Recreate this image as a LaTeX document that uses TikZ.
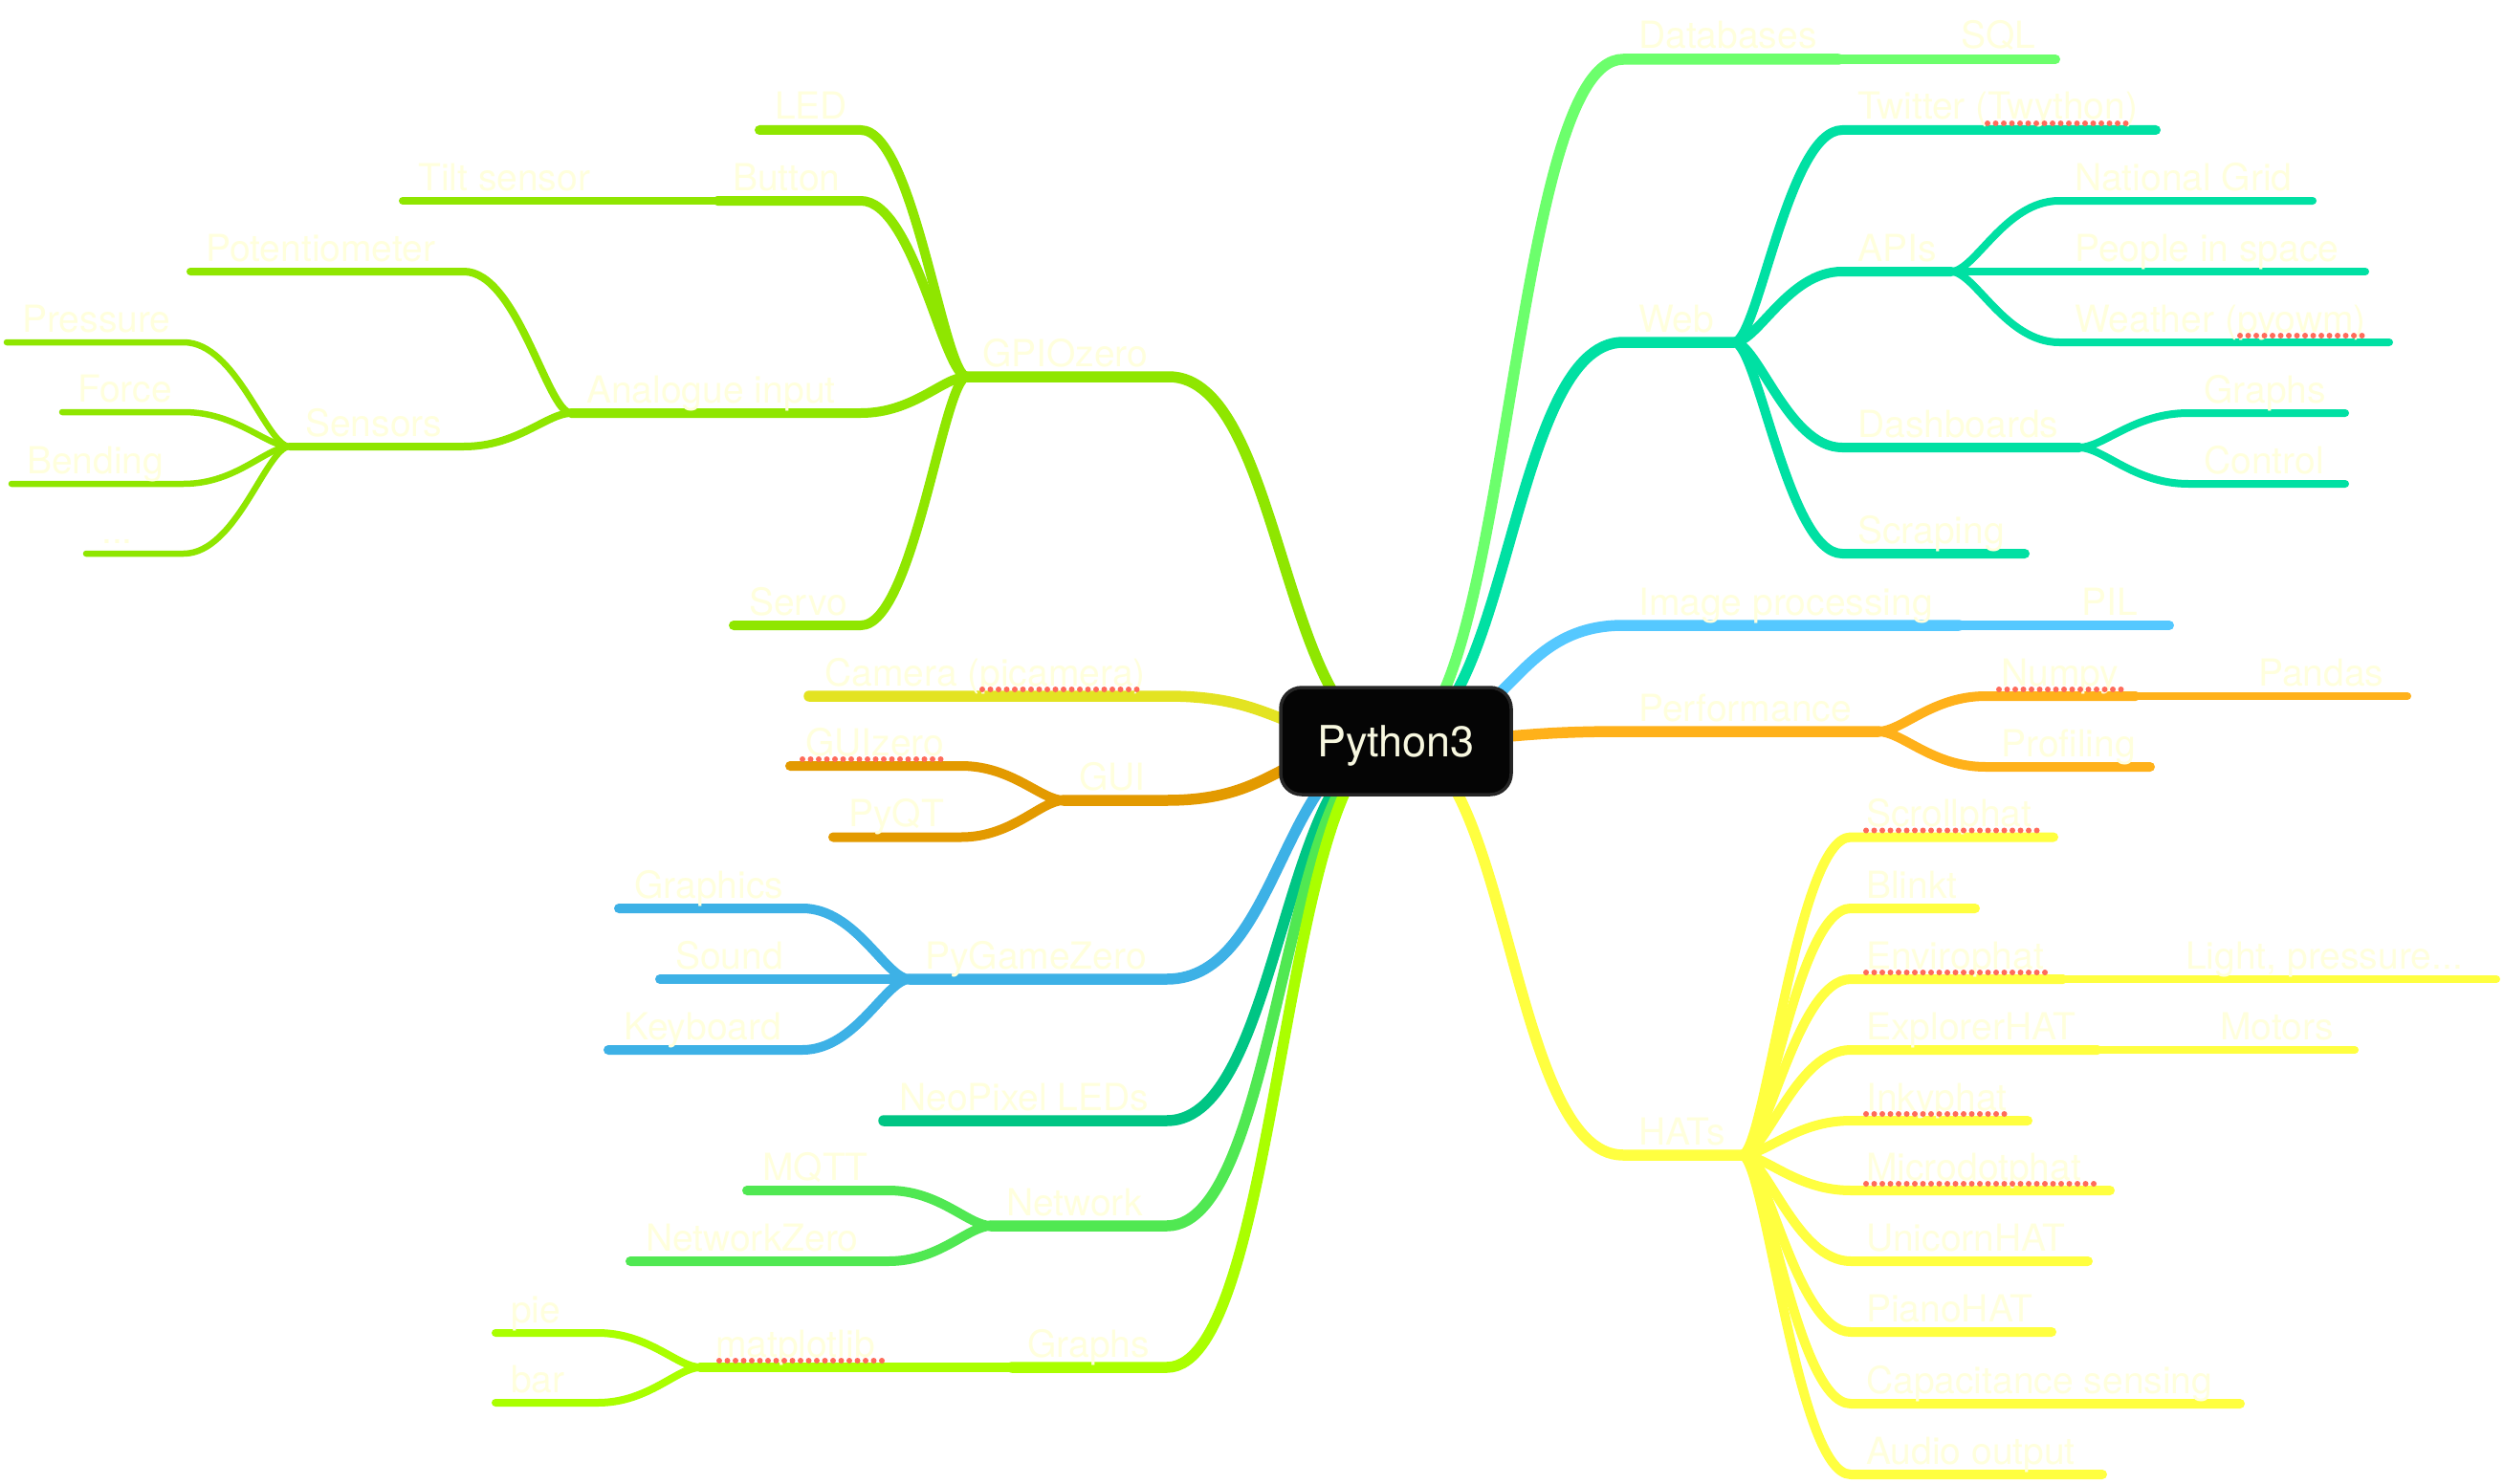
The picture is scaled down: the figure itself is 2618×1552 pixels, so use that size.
\documentclass[tikz,border=0pt]{standalone}
\usepackage{fontspec}
\setmainfont{TeX Gyre Heros}
\usetikzlibrary{calc}

% branch colours
\definecolor{cGpio}{HTML}{8FE600}
\definecolor{cCamera}{HTML}{E3E322}
\definecolor{cGui}{HTML}{E39A00}
\definecolor{cPygame}{HTML}{3DB1E6}
\definecolor{cNeo}{HTML}{00C584}
\definecolor{cNet}{HTML}{50E852}
\definecolor{cGraphs}{HTML}{AAFF00}
\definecolor{cDb}{HTML}{6CFF6C}
\definecolor{cWeb}{HTML}{00E0A3}
\definecolor{cImg}{HTML}{55C8FF}
\definecolor{cPerf}{HTML}{FFB11A}
\definecolor{cHats}{HTML}{FFFF40}
\definecolor{labeltext}{HTML}{FFFFDD}
\definecolor{roottext}{HTML}{F8F8E0}
\definecolor{rootfill}{HTML}{050505}
\definecolor{rootedge}{HTML}{262626}
\definecolor{spellred}{HTML}{FF6B5B}

\pgfdeclarelayer{bg}
\pgfsetlayers{bg,main}

\tikzset{
  % symmetric S-bend, used from the central topic
  sbend/.style={to path={let \p1=(\tikztostart), \p2=(\tikztotarget) in
      .. controls ({0.5*\x1+0.5*\x2},\y1) and ({0.5*\x1+0.5*\x2},\y2) .. (\tikztotarget)}},
  % fork: leaves the parent quickly, settles flat into the child
  fork/.style={to path={let \p1=(\tikztostart), \p2=(\tikztotarget) in
      .. controls ({0.78*\x1+0.22*\x2},\y1) and ({0.5*\x1+0.5*\x2},\y2) .. (\tikztotarget)}},
  branch/.style={line cap=round, line join=round},
  lvA/.style={branch, line width=11.5pt},
  lvB/.style={branch, line width=10pt},
  lvC/.style={branch, line width=8pt},
  lvD/.style={branch, line width=6.5pt},
  lbl/.style={text=labeltext, font=\fontsize{39}{46}\selectfont, inner sep=0pt, anchor=base west},
  rootbox/.style={draw=rootedge, line width=3.5pt, fill=rootfill, rounded corners=22pt,
      minimum width=241pt, minimum height=112pt, inner sep=0pt, text depth=0pt,
      text=roottext, font=\fontsize{45}{54}\selectfont},
  spell/.style={draw=spellred, line width=6pt, line cap=round, dash pattern=on 0pt off 8.5pt},
}

% a topic: its underline runs from x=#2 to x=#3 at height #4
\newcommand\mmtopic[5]{%
  \coordinate (#1-l) at (#2,#4);
  \coordinate (#1-r) at (#3,#4);
  \node[lbl] (#1) at ({#2+16},{#4-11}) {#5};
}

\begin{document}
\begin{tikzpicture}[x=1pt,y=-1pt]
\useasboundingbox (0,0) rectangle (2618,1552);

\coordinate (root-c) at (1459.5,775);

% ---- left side topics
\mmtopic{gpio}{1011}{1222}{394}{GPIOzero}
\mmtopic{led}{794}{900}{136}{LED}
\mmtopic{button}{750}{900}{210}{Button}
\mmtopic{tilt}{421}{639}{210}{Tilt sensor}
\mmtopic{analog}{597}{900}{432}{Analogue input}
\mmtopic{pot}{199}{485}{284}{Potentiometer}
\mmtopic{sensors}{303}{485}{467}{Sensors}
\mmtopic{pressure}{7}{192}{358}{Pressure}
\mmtopic{force}{65}{192}{431}{Force}
\mmtopic{bending}{12}{192}{506}{Bending}
\mmtopic{more}{90}{192}{579}{...}
\mmtopic{servo}{767}{900}{654}{Servo}
\mmtopic{camera}{846}{1220}{728}{Camera (picamera)}
\mmtopic{gui}{1112}{1220}{837}{GUI}
\mmtopic{guizero}{826}{1005}{801}{GUIzero}
\mmtopic{pyqt}{871}{1005}{875.5}{PyQT}
\mmtopic{pygame}{951}{1220}{1024}{PyGameZero}
\mmtopic{graphics}{647}{839}{950}{Graphics}
\mmtopic{sound}{690}{839}{1024}{Sound}
\mmtopic{keyboard}{636}{839}{1098}{Keyboard}
\mmtopic{neopixel}{924}{1220}{1172}{NeoPixel LEDs}
\mmtopic{network}{1036}{1220}{1282}{Network}
\mmtopic{mqtt}{781}{929}{1245}{MQTT}
\mmtopic{netzero}{659}{929}{1319}{NetworkZero}
\mmtopic{graphsL}{1058}{1220}{1430}{Graphs}
\mmtopic{mpl}{732}{947}{1430}{matplotlib}
\mmtopic{pie}{518}{625}{1394}{pie}
\mmtopic{bar}{518}{625}{1467}{bar}

% ---- right side topics
\mmtopic{db}{1697}{1922}{62}{Databases}
\mmtopic{sql}{2034}{2149}{62}{SQL}
\mmtopic{web}{1697}{1813}{358}{Web}
\mmtopic{twitter}{1926}{2254}{136}{Twitter (Twython)}
\mmtopic{apis}{1926}{2040}{284}{APIs}
\mmtopic{natgrid}{2153}{2418}{210}{National Grid}
\mmtopic{people}{2153}{2473}{284}{People in space}
\mmtopic{weather}{2153}{2498}{358}{Weather (pyowm)}
\mmtopic{dash}{1926}{2174}{468}{Dashboards}
\mmtopic{graphsR}{2288}{2452}{432}{Graphs}
\mmtopic{control}{2288}{2452}{506}{Control}
\mmtopic{scraping}{1926}{2117}{579}{Scraping}
\mmtopic{imgproc}{1697}{2048}{654}{Image processing}
\mmtopic{pil}{2160}{2268}{654}{PIL}
\mmtopic{perf}{1697}{1964}{765}{Performance}
\mmtopic{numpy}{2076}{2233}{728}{Numpy}
\mmtopic{pandas}{2345}{2517}{728}{Pandas}
\mmtopic{profiling}{2076}{2248}{802}{Profiling}
\mmtopic{hats}{1697}{1821}{1208}{HATs}
\mmtopic{scroll}{1935}{2147}{875.5}{Scrollphat}
\mmtopic{blinkt}{1935}{2065}{950}{Blinkt}
\mmtopic{enviro}{1935}{2157}{1024}{Envirophat}
\mmtopic{light}{2269}{2610}{1024}{Light, pressure...}
\mmtopic{explorer}{1935}{2193}{1098}{ExplorerHAT}
\mmtopic{motors}{2305}{2462}{1098}{Motors}
\mmtopic{inky}{1935}{2120}{1172}{Inkyphat}
\mmtopic{microdot}{1935}{2206}{1245}{Microdotphat}
\mmtopic{unicorn}{1935}{2183}{1319}{UnicornHAT}
\mmtopic{piano}{1935}{2145}{1393}{PianoHAT}
\mmtopic{capsense}{1935}{2342}{1468}{Capacitance sensing}
\mmtopic{audio}{1935}{2198}{1542}{Audio output}

\begin{pgfonlayer}{bg}
  % white page under the branches
  \fill[white] (0,0) rectangle (2618,1552);
  % GPIOzero
  \draw[lvA, cGpio] (root-c) to[sbend] (gpio-r) -- (gpio-l);
  \draw[lvB, cGpio] (gpio-l) to[fork] (led-r) -- (led-l);
  \draw[lvB, cGpio] (gpio-l) to[fork] (button-r) -- (button-l);
  \draw[lvC, cGpio] (button-l) to[fork] (tilt-r) -- (tilt-l);
  \draw[lvB, cGpio] (gpio-l) to[fork] (analog-r) -- (analog-l);
  \draw[lvC, cGpio] (analog-l) to[fork] (pot-r) -- (pot-l);
  \draw[lvC, cGpio] (analog-l) to[fork] (sensors-r) -- (sensors-l);
  \draw[lvD, cGpio] (sensors-l) to[fork] (pressure-r) -- (pressure-l);
  \draw[lvD, cGpio] (sensors-l) to[fork] (force-r) -- (force-l);
  \draw[lvD, cGpio] (sensors-l) to[fork] (bending-r) -- (bending-l);
  \draw[lvD, cGpio] (sensors-l) to[fork] (more-r) -- (more-l);
  \draw[lvB, cGpio] (gpio-l) to[fork] (servo-r) -- (servo-l);
  % Camera
  \draw[lvA, cCamera] (root-c) to[sbend] (camera-r) -- (camera-l);
  % GUI
  \draw[lvA, cGui] (root-c) to[sbend] (gui-r) -- (gui-l);
  \draw[lvB, cGui] (gui-l) to[fork] (guizero-r) -- (guizero-l);
  \draw[lvB, cGui] (gui-l) to[fork] (pyqt-r) -- (pyqt-l);
  % PyGameZero
  \draw[lvA, cPygame] (root-c) to[sbend] (pygame-r) -- (pygame-l);
  \draw[lvB, cPygame] (pygame-l) to[fork] (graphics-r) -- (graphics-l);
  \draw[lvB, cPygame] (pygame-l) to[fork] (sound-r) -- (sound-l);
  \draw[lvB, cPygame] (pygame-l) to[fork] (keyboard-r) -- (keyboard-l);
  % NeoPixel
  \draw[lvA, cNeo] (root-c) to[sbend] (neopixel-r) -- (neopixel-l);
  % Network
  \draw[lvA, cNet] (root-c) to[sbend] (network-r) -- (network-l);
  \draw[lvB, cNet] (network-l) to[fork] (mqtt-r) -- (mqtt-l);
  \draw[lvB, cNet] (network-l) to[fork] (netzero-r) -- (netzero-l);
  % Graphs
  \draw[lvA, cGraphs] (root-c) to[sbend] (graphsL-r) -- (graphsL-l);
  \draw[lvB, cGraphs] (graphsL-l) to[fork] (mpl-r) -- (mpl-l);
  \draw[lvC, cGraphs] (mpl-l) to[fork] (pie-r) -- (pie-l);
  \draw[lvC, cGraphs] (mpl-l) to[fork] (bar-r) -- (bar-l);

  % Databases
  \draw[lvA, cDb] (root-c) to[sbend] (db-l) -- (db-r);
  \draw[lvB, cDb] (db-r) to[fork] (sql-l) -- (sql-r);
  % Web
  \draw[lvA, cWeb] (root-c) to[sbend] (web-l) -- (web-r);
  \draw[lvB, cWeb] (web-r) to[fork] (twitter-l) -- (twitter-r);
  \draw[lvB, cWeb] (web-r) to[fork] (apis-l) -- (apis-r);
  \draw[lvC, cWeb] (apis-r) to[fork] (natgrid-l) -- (natgrid-r);
  \draw[lvC, cWeb] (apis-r) to[fork] (people-l) -- (people-r);
  \draw[lvC, cWeb] (apis-r) to[fork] (weather-l) -- (weather-r);
  \draw[lvB, cWeb] (web-r) to[fork] (dash-l) -- (dash-r);
  \draw[lvC, cWeb] (dash-r) to[fork] (graphsR-l) -- (graphsR-r);
  \draw[lvC, cWeb] (dash-r) to[fork] (control-l) -- (control-r);
  \draw[lvB, cWeb] (web-r) to[fork] (scraping-l) -- (scraping-r);
  % Image processing
  \draw[lvA, cImg] (root-c) to[sbend] (imgproc-l) -- (imgproc-r);
  \draw[lvB, cImg] (imgproc-r) to[fork] (pil-l) -- (pil-r);
  % Performance
  \draw[lvA, cPerf] (root-c) to[sbend] (perf-l) -- (perf-r);
  \draw[lvB, cPerf] (perf-r) to[fork] (numpy-l) -- (numpy-r);
  \draw[lvC, cPerf] (numpy-r) to[fork] (pandas-l) -- (pandas-r);
  \draw[lvB, cPerf] (perf-r) to[fork] (profiling-l) -- (profiling-r);
  % HATs
  \draw[lvA, cHats] (root-c) to[sbend] (hats-l) -- (hats-r);
  \foreach \h in {scroll,blinkt,enviro,explorer,inky,microdot,unicorn,piano,capsense,audio}
    \draw[lvB, cHats] (hats-r) to[fork] (\h-l) -- (\h-r);
  \draw[lvC, cHats] (enviro-r) to[fork] (light-l) -- (light-r);
  \draw[lvC, cHats] (explorer-r) to[fork] (motors-l) -- (motors-r);
\end{pgfonlayer}

% central topic
\node[rootbox] (root) at (root-c) {Python3};

% spelling marks under unknown words
\draw[spell] (2078,129) -- (2229,129);
\draw[spell] (2342,351) -- (2477,351);
\draw[spell] (1027,721) -- (1196,721);
\draw[spell] (839,794) -- (989,794);
\draw[spell] (2090,721) -- (2220,721);
\draw[spell] (1951,868.5) -- (2134,868.5);
\draw[spell] (1951,1017) -- (2141,1017);
\draw[spell] (1951,1165) -- (2103,1165);
\draw[spell] (1951,1238) -- (2189,1238);
\draw[spell] (752,1423) -- (924,1423);

\end{tikzpicture}
\end{document}
